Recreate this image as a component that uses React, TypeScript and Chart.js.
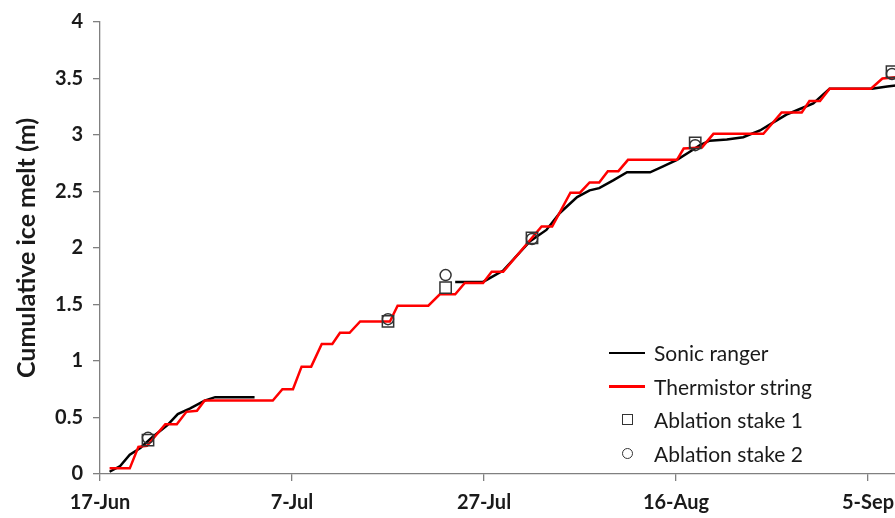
import React, { useEffect, useRef } from "react";
import { Chart, registerables } from "chart.js";

Chart.register(...registerables);

const FONT = "Lato, 'Open Sans', sans-serif";
const TEXT = "#1a1a1a";
const AXIS = "#808080";

// x axis: days since 17-Jun
const xTickDays = [0, 20, 40, 60, 80];
const xTickLabels = ["17-Jun", "7-Jul", "27-Jul", "16-Aug", "5-Sep"];
const yTickValues = [0, 0.5, 1, 1.5, 2, 2.5, 3, 3.5, 4];
const yTickLabels = ["0", "0.5", "1", "1.5", "2", "2.5", "3", "3.5", "4"];

// Sonic ranger (null = data gap)
const sonicDays = [
  1.0, 2.1, 3.1, 4.2, 5.5, 7.0, 8.1, 9.4, 10.9, 12.0, 16.1,
  26.0,
  37.0, 39.9, 42.0, 44.8, 46.5, 47.9, 49.7, 51.0, 52.0, 53.5, 54.9, 57.3,
  58.6, 60.1, 61.4, 62.5, 63.5, 65.3, 67.0, 68.75, 70.1, 71.5, 72.9, 74.3,
  76.0, 80.4, 82.0, 84.0,
];
const sonicMelt: (number | null)[] = [
  0.02, 0.07, 0.17, 0.23, 0.33, 0.43, 0.53, 0.58, 0.65, 0.68, 0.68,
  null,
  1.70, 1.70, 1.80, 2.06, 2.16, 2.31, 2.45, 2.51, 2.53, 2.60, 2.67, 2.67,
  2.72, 2.78, 2.85, 2.91, 2.95, 2.96, 2.98, 3.04, 3.11, 3.18, 3.23, 3.28,
  3.41, 3.41, 3.43, 3.45,
];

// Thermistor string
const thermDays = [
  1.0, 3.1, 4.0, 4.9, 6.8, 8.0, 9.0, 10.1, 10.9, 18.0, 19.0, 20.1, 21.0, 22.0,
  23.1, 24.2, 25.0, 26.0, 27.1, 30.2, 31.0, 34.2, 35.4, 37.0, 38.0, 39.9,
  40.8, 42.0, 46.0, 47.1, 49.0, 50.0, 51.0, 52.0, 52.9, 54.0, 55.0, 60.1,
  60.8, 62.7, 63.9, 69.1, 71.0, 73.1, 73.9, 75.0, 76.0, 80.3, 81.5, 84.0,
];
const thermMelt = [
  0.05, 0.05, 0.24, 0.25, 0.44, 0.44, 0.55, 0.56, 0.65, 0.65, 0.75, 0.75, 0.95, 0.95,
  1.15, 1.15, 1.25, 1.25, 1.35, 1.35, 1.49, 1.49, 1.59, 1.59, 1.69, 1.69,
  1.79, 1.79, 2.19, 2.19, 2.49, 2.49, 2.58, 2.58, 2.68, 2.68, 2.78, 2.78,
  2.88, 2.89, 3.01, 3.01, 3.20, 3.20, 3.30, 3.30, 3.41, 3.41, 3.50, 3.52,
];

// Ablation stakes
const stakeDays = [5.0, 30.0, 36.0, 45.0, 62.0, 82.5];
const stake1Melt = [0.30, 1.35, 1.65, 2.09, 2.93, 3.56];
const stake2Melt = [0.32, 1.37, 1.76, 2.08, 2.91, 3.54];

const legendItems = [
  { label: "Sonic ranger", kind: "line", color: "#000000" },
  { label: "Thermistor string", kind: "line", color: "#ff0000" },
  { label: "Ablation stake 1", kind: "square", color: "#333333" },
  { label: "Ablation stake 2", kind: "circle", color: "#333333" },
];

function toXY(days: number[], vals: (number | null)[]) {
  return days.map((d, i) => ({ x: d, y: vals[i] }));
}

export default function App() {
  const canvasRef = useRef<HTMLCanvasElement | null>(null);

  useEffect(() => {
    let chart: Chart | null = null;
    let cancelled = false;
    const make = () => {
      if (cancelled || !canvasRef.current) return;
      chart = new Chart(canvasRef.current, {
        type: "line",
        data: {
          datasets: [
            {
              label: "Ablation stake 1",
              data: toXY(stakeDays, stake1Melt),
              showLine: false,
              pointStyle: "rect",
              pointRadius: 8,
              pointBorderWidth: 1.5,
              pointBorderColor: "#333333",
              pointBackgroundColor: "rgba(0,0,0,0)",
              order: 0,
            },
            {
              label: "Ablation stake 2",
              data: toXY(stakeDays, stake2Melt),
              showLine: false,
              pointStyle: "circle",
              pointRadius: 5.5,
              pointBorderWidth: 1.5,
              pointBorderColor: "#333333",
              pointBackgroundColor: "rgba(0,0,0,0)",
              order: 0,
            },
            {
              label: "Sonic ranger",
              data: toXY(sonicDays, sonicMelt),
              borderColor: "#000000",
              borderWidth: 2.5,
              pointRadius: 0,
              spanGaps: false,
              tension: 0,
              order: 2,
            },
            {
              label: "Thermistor string",
              data: toXY(thermDays, thermMelt),
              borderColor: "#ff0000",
              borderWidth: 2.5,
              pointRadius: 0,
              tension: 0,
              order: 1,
            },
          ],
        },
        options: {
          animation: false,
          responsive: true,
          maintainAspectRatio: false,
          layout: { padding: { top: 22, right: 16, left: 0, bottom: 0 } },
          plugins: {
            legend: { display: false },
            tooltip: { enabled: false },
          },
          scales: {
            x: {
              type: "linear",
              min: 0,
              max: 90,
              afterBuildTicks: (s: any) => {
                s.ticks = xTickDays.map((v) => ({ value: v }));
              },
              afterFit: (s: any) => {
                s.height = 44;
              },
              ticks: {
                autoSkip: false,
                maxRotation: 0,
                padding: 10,
                color: TEXT,
                font: { family: FONT, size: 20, weight: "bold" },
                callback: (v: any) => {
                  const i = xTickDays.indexOf(Number(v));
                  return i >= 0 ? xTickLabels[i] : "";
                },
              },
              grid: {
                drawOnChartArea: false,
                drawTicks: true,
                tickLength: 7,
                color: AXIS,
                lineWidth: 1.3,
              },
              border: { display: true, color: AXIS, width: 1.3 },
            },
            y: {
              type: "linear",
              min: 0,
              max: 4,
              afterBuildTicks: (s: any) => {
                s.ticks = yTickValues.map((v) => ({ value: v }));
              },
              afterFit: (s: any) => {
                s.width = 100;
              },
              ticks: {
                padding: 10,
                color: TEXT,
                font: { family: FONT, size: 20, weight: "bold" },
                callback: (v: any) => {
                  const i = yTickValues.indexOf(Number(v));
                  return i >= 0 ? yTickLabels[i] : "";
                },
              },
              grid: {
                drawOnChartArea: false,
                drawTicks: true,
                tickLength: 7,
                color: AXIS,
                lineWidth: 1.3,
              },
              border: { display: true, color: AXIS, width: 1.3 },
              title: {
                display: true,
                text: "Cumulative ice melt (m)",
                color: TEXT,
                font: { family: FONT, size: 25, weight: "bold" },
                padding: { top: 12, bottom: 0 },
              },
            },
          },
        },
      });
    };
    const fontsReady = (document as any).fonts
      ? Promise.all([
          (document as any).fonts.load("bold 20px Lato"),
          (document as any).fonts.load("20px Lato"),
        ]).catch(() => null)
      : Promise.resolve(null);
    fontsReady.then(make);
    return () => {
      cancelled = true;
      if (chart) chart.destroy();
    };
  }, []);

  return (
    <div
      style={{
        position: "fixed",
        left: 0,
        top: 0,
        width: 895,
        height: 518,
        overflow: "hidden",
        background: "#ffffff",
      }}
    >
      <div style={{ position: "absolute", left: 0, top: 0, width: 980, height: 518 }}>
        <canvas ref={canvasRef} />
      </div>
      <div
        style={{
          position: "absolute",
          left: 606,
          top: 336,
          fontFamily: FONT,
          fontSize: 21,
          color: TEXT,
        }}
      >
        {legendItems.map((it) => (
          <div
            key={it.label}
            style={{ display: "flex", alignItems: "center", height: 33.5 }}
          >
            <div
              style={{
                width: 42,
                height: 20,
                display: "flex",
                alignItems: "center",
                justifyContent: "center",
                marginRight: 6,
              }}
            >
              {it.kind === "line" && (
                <div style={{ width: 36, height: 2.5, background: it.color }} />
              )}
              {it.kind === "square" && (
                <div
                  style={{
                    width: 9,
                    height: 9,
                    border: `1.5px solid ${it.color}`,
                  }}
                />
              )}
              {it.kind === "circle" && (
                <div
                  style={{
                    width: 9,
                    height: 9,
                    borderRadius: "50%",
                    border: `1.5px solid ${it.color}`,
                  }}
                />
              )}
            </div>
            <span>{it.label}</span>
          </div>
        ))}
      </div>
    </div>
  );
}
